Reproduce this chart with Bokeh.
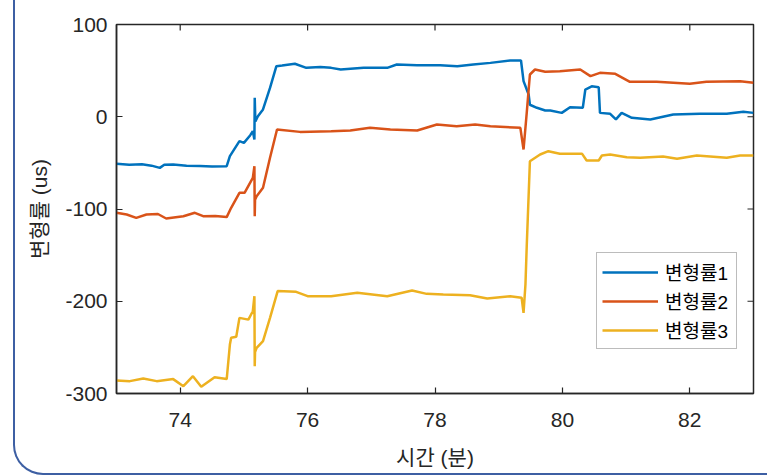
import math
from bokeh.plotting import figure
from bokeh.models import (Range1d, FixedTicker, Legend, LegendItem, InlineStyleSheet)
from bokeh.embed import file_html
from bokeh.resources import INLINE

# ---- data ----
x_ticks = [74, 76, 78, 80, 82]
y_ticks = [-300, -200, -100, 0, 100]
series_names = ["변형률1", "변형률2", "변형률3"]
series_colors = ["#0072BD", "#D95319", "#EDB120"]

x1 = [73.0, 73.2, 73.4, 73.55, 73.68, 73.75, 73.89, 74.1, 74.31, 74.5, 74.73, 74.78,
      74.83, 74.93, 75.0, 75.1, 75.14, 75.165, 75.17, 75.18, 75.22, 75.3, 75.41, 75.51,
      75.6, 75.8, 75.98, 76.2, 76.37, 76.52, 76.88, 77.25, 77.4, 77.72, 78.08, 78.35,
      78.6, 78.87, 79.18, 79.35, 79.39, 79.47, 79.49, 79.6, 79.73, 79.81, 79.99, 80.12,
      80.32, 80.36, 80.46, 80.57, 80.59, 80.75, 80.84, 80.93, 81.09, 81.38, 81.74,
      82.16, 82.58, 82.84, 83.0]
y1 = [-51, -52, -51.5, -53, -55.4, -52, -51.8, -53, -53.5, -54, -53.6, -42.7,
      -37.3, -26.5, -28.3, -20, -15.6, -24.7, 20.5, -5, 0.6, 7.9, 31.3, 54.8,
      55.5, 57.4, 53, 54, 53, 51.2, 53, 53, 56.6, 55.9, 55.9, 54.8,
      56.6, 58.4, 61, 61, 38.6, 24.1, 13, 9.7, 6.8, 6.8, 4.2, 10.4,
      9.7, 29.5, 33, 32, 4.2, 3.2, -2.9, 4.2, -1.2, -2.9, 2.5,
      3.2, 3.2, 5.4, 4.2]

x2 = [73.0, 73.16, 73.31, 73.47, 73.65, 73.78, 74.05, 74.23, 74.36, 74.55, 74.73, 74.8,
      74.93, 75.01, 75.14, 75.165, 75.17, 75.175, 75.2, 75.3, 75.41, 75.52, 75.88, 76.37,
      76.67, 76.98, 77.3, 77.72, 78.03, 78.34, 78.63, 78.87, 79.34, 79.39, 79.44, 79.49,
      79.57, 79.73, 79.96, 80.28, 80.44, 80.59, 80.83, 81.06, 81.48, 82.0, 82.26, 82.79,
      83.0]
y2 = [-104, -106, -109.6, -106, -105.4, -110.3, -107.8, -104.1, -107.8, -107.5, -108.8, -98.7,
      -82.5, -82.5, -66.2, -53.6, -107.8, -90, -86.1, -77, -44.5, -13.8, -16.4, -15.6,
      -14.9, -12, -13.8, -14.9, -8.4, -10.2, -8.4, -10.2, -12, -35.5, 4.3, 45.8,
      51.2, 48.7, 49.4, 51.2, 44, 47.6, 46.5, 37.9, 37.9, 35.7, 37.9, 38.5,
      36.8]

x3 = [73.0, 73.21, 73.42, 73.63, 73.89, 74.05, 74.2, 74.33, 74.54, 74.73, 74.78, 74.8,
      74.88, 74.93, 75.07, 75.14, 75.165, 75.17, 75.175, 75.2, 75.3, 75.41, 75.53, 75.82,
      76.0, 76.37, 76.78, 77.25, 77.64, 77.87, 78.13, 78.55, 78.82, 79.18, 79.36, 79.39,
      79.42, 79.44, 79.49, 79.65, 79.78, 79.96, 80.31, 80.38, 80.57, 80.62, 80.75, 81.01,
      81.22, 81.58, 81.8, 82.11, 82.58, 82.79, 83.0]
y3 = [-285.9, -286.6, -283.7, -286.6, -284.4, -292.1, -281.2, -292.8, -282.3, -284.4, -246.9, -239.6,
      -238.5, -218, -219.9, -210.8, -194.5, -270.4, -255, -250.5, -243.3, -218, -189, -189.8,
      -194.5, -194.5, -190.9, -194.5, -188.3, -192, -192.6, -193.4, -197, -194.5, -196.2, -212.6,
      -181.8, -140.3, -48.2, -40.9, -37.3, -40.2, -40.2, -47.4, -47.4, -42, -40.9, -43.8,
      -44.5, -43.1, -45.6, -42, -44.5, -42, -42]

x_label = "시간 (분)"
y_label = "변형률 (us)"

FONT = "'Liberation Sans', 'Noto Sans CJK KR'"
TXT = "#262626"
X_MIN, X_MAX, Y_MIN, Y_MAX = 73, 83, -300, 100

deco_css = InlineStyleSheet(css="""
:host { position: relative; }
:host::after {
  content: ""; position: absolute; left: 13px; top: 0; right: 0; bottom: 0;
  border-left: 2px solid #3d5fa3; border-bottom: 2px solid #3d5fa3;
  border-bottom-left-radius: 30px; box-sizing: border-box; pointer-events: none;
}
""")

p = figure(width=767, height=475, output_backend="svg", toolbar_location=None,
           x_range=Range1d(X_MIN, X_MAX), y_range=Range1d(Y_MIN, Y_MAX),
           min_border_left=116, min_border_right=14, min_border_top=24,
           min_border_bottom=82, x_axis_label=x_label, y_axis_label=y_label)
p.stylesheets = [deco_css]
p.background_fill_color = "white"
p.border_fill_color = "white"
p.outline_line_color = TXT
p.outline_line_width = 1.5
p.outline_line_alpha = 1
p.xgrid.visible = False
p.ygrid.visible = False

renderers = []
for xs, ys, c in zip([x1, x2, x3], [y1, y2, y3], series_colors):
    r = p.line(xs, ys, line_color=c, line_width=2.5)
    renderers.append(r)

# inward ticks on the top and right edges (MATLAB box style)
p.scatter(x=x_ticks, y=[Y_MAX] * len(x_ticks), marker="dash", size=12, angle=math.pi / 2,
          line_color=TXT, line_width=1.2)
p.scatter(x=[X_MAX] * len(y_ticks), y=y_ticks, marker="dash", size=12,
          line_color=TXT, line_width=1.2)

xax = p.below[0]
yax = p.left[0]
xax.ticker = FixedTicker(ticks=x_ticks)
yax.ticker = FixedTicker(ticks=y_ticks)
yax.major_label_overrides = {t: str(t) for t in y_ticks}
xax.major_label_overrides = {t: str(t) for t in x_ticks}

for ax in (xax, yax):
    ax.major_tick_in = 6
    ax.major_tick_out = 0
    ax.minor_tick_in = 0
    ax.minor_tick_out = 0
    ax.axis_line_color = TXT
    ax.axis_line_width = 1.5
    ax.major_tick_line_color = TXT
    ax.major_tick_line_width = 1.2
    ax.major_label_text_font = FONT
    ax.major_label_text_font_size = "21px"
    ax.major_label_text_color = TXT
    ax.axis_label_text_font = FONT
    ax.axis_label_text_font_size = "21px"
    ax.axis_label_text_font_style = "normal"
    ax.axis_label_text_color = TXT

xax.major_label_standoff = 19
xax.axis_label_standoff = 16
yax.major_label_standoff = 9
yax.axis_label_standoff = 11

legend = Legend(items=[LegendItem(label=n, renderers=[r]) for n, r in zip(series_names, renderers)],
                location=(480, 44), orientation="vertical")
legend.label_text_font = FONT
legend.label_text_font_size = "19px"
legend.label_text_color = "#000000"
legend.glyph_width = 56
legend.glyph_height = 24
legend.label_width = 66
legend.spacing = 2
legend.padding = 5
legend.margin = 0
legend.label_standoff = 7
legend.border_line_color = "#7a7a7a"
legend.border_line_width = 1
legend.background_fill_color = "white"
legend.background_fill_alpha = 1
p.add_layout(legend)

open("out.html", "w").write(file_html(p, INLINE))
